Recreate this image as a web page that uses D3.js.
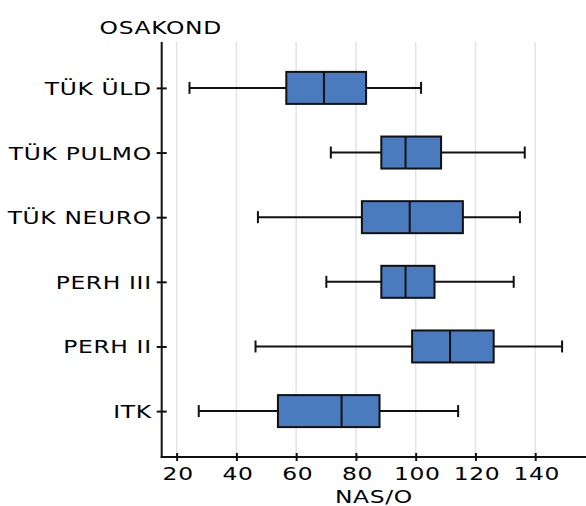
<!DOCTYPE html>
<html>
<head>
<meta charset="utf-8">
<script src="https://cdn.jsdelivr.net/npm/d3@7"></script>
<style>
  html, body { margin: 0; padding: 0; background: #fff; }
  svg { display: block; }
  text { font-family: "DejaVu Sans", Verdana, sans-serif; fill: #000; letter-spacing: 0.5px; }
</style>
</head>
<body>
<script>
const categories = ["TÜK ÜLD", "TÜK PULMO", "TÜK NEURO", "PERH III", "PERH II", "ITK"];
const whiskerLow  = [24.3, 71.6, 47.2, 70.1, 46.4, 27.4];
const q1          = [56.7, 88.5, 82.0, 88.5, 98.8, 53.9];
const median      = [69.3, 96.6, 98.0, 96.6, 111.5, 75.2];
const q3          = [83.4, 108.5, 115.8, 106.3, 126.1, 87.9];
const whiskerHigh = [101.8, 136.5, 134.9, 132.8, 149.0, 114.2];
const xTicks = [20, 40, 60, 80, 100, 120, 140];
const yTitle = "OSAKOND";
const xTitle = "NAS/O";

(function () {
const W = 586, H = 506;
const pLeft = 161.7, pRight = 586, pTop = 42, pBottom = 457;
const fontSize = 18, sx = 1.3;
const boxH = 32, capH = 12;
const fillColor = "#4a7bbf";

const svg = d3.select("body").append("svg").attr("width", W).attr("height", H);

const x = d3.scaleLinear().domain([15, 157]).range([pLeft, pRight]);
const y = d3.scalePoint().domain(categories).range([pTop, pBottom]).padding(0.71);

const rows = categories.map((c, i) => ({
  cat: c, lo: whiskerLow[i], q1: q1[i], med: median[i], q3: q3[i], hi: whiskerHigh[i]
}));

// grid lines
svg.append("g").selectAll("line").data(xTicks).join("line")
  .attr("x1", d => x(d)).attr("x2", d => x(d))
  .attr("y1", pTop).attr("y2", pBottom)
  .attr("stroke", "#e3e3e3").attr("stroke-width", 1.5);

// boxes
const g = svg.append("g").selectAll("g").data(rows).join("g");
g.append("line")
  .attr("x1", d => x(d.lo)).attr("x2", d => x(d.q1))
  .attr("y1", d => y(d.cat)).attr("y2", d => y(d.cat))
  .attr("stroke", "#111").attr("stroke-width", 2);
g.append("line")
  .attr("x1", d => x(d.q3)).attr("x2", d => x(d.hi))
  .attr("y1", d => y(d.cat)).attr("y2", d => y(d.cat))
  .attr("stroke", "#111").attr("stroke-width", 2);
g.append("line")
  .attr("x1", d => x(d.lo)).attr("x2", d => x(d.lo))
  .attr("y1", d => y(d.cat) - capH / 2).attr("y2", d => y(d.cat) + capH / 2)
  .attr("stroke", "#111").attr("stroke-width", 2);
g.append("line")
  .attr("x1", d => x(d.hi)).attr("x2", d => x(d.hi))
  .attr("y1", d => y(d.cat) - capH / 2).attr("y2", d => y(d.cat) + capH / 2)
  .attr("stroke", "#111").attr("stroke-width", 2);
g.append("rect")
  .attr("x", d => x(d.q1)).attr("width", d => x(d.q3) - x(d.q1))
  .attr("y", d => y(d.cat) - boxH / 2).attr("height", boxH)
  .attr("fill", fillColor).attr("stroke", "#111").attr("stroke-width", 2);
g.append("line")
  .attr("x1", d => x(d.med)).attr("x2", d => x(d.med))
  .attr("y1", d => y(d.cat) - boxH / 2).attr("y2", d => y(d.cat) + boxH / 2)
  .attr("stroke", "#111").attr("stroke-width", 2);

// x axis
const xAxis = svg.append("g").attr("transform", `translate(0,${pBottom})`)
  .call(d3.axisBottom(x).tickValues(xTicks).tickSize(4).tickSizeOuter(0));
xAxis.select(".domain").attr("stroke", "#111").attr("stroke-width", 2)
  .attr("d", `M${pLeft - 1},0H${pRight}`);
xAxis.selectAll(".tick line").attr("y1", -4).attr("y2", 4)
  .attr("stroke", "#111").attr("stroke-width", 2);
xAxis.selectAll(".tick text")
  .attr("y", 0).attr("dy", 0)
  .attr("transform", `translate(1,23) scale(${sx},1)`)
  .style("font-size", fontSize + "px");

// y axis
const yAxis = svg.append("g").attr("transform", `translate(${pLeft},0)`)
  .call(d3.axisLeft(y).tickSize(5).tickSizeOuter(0));
yAxis.select(".domain").attr("stroke", "#111").attr("stroke-width", 2)
  .attr("d", `M0,${pTop}V${pBottom + 1}`);
yAxis.selectAll(".tick line").attr("x1", -5).attr("x2", 5)
  .attr("stroke", "#111").attr("stroke-width", 2);
yAxis.selectAll(".tick text")
  .attr("x", 0).attr("dy", "0.36em")
  .attr("transform", `translate(-10,0) scale(${sx},1)`)
  .style("font-size", fontSize + "px");

// titles
svg.append("text")
  .attr("transform", `translate(${pLeft - 1},34) scale(${sx},1)`)
  .attr("text-anchor", "middle").style("font-size", fontSize + "px")
  .text(yTitle);
svg.append("text")
  .attr("transform", `translate(${(pLeft + pRight) / 2},503) scale(${sx},1)`)
  .attr("text-anchor", "middle").style("font-size", fontSize + "px")
  .text(xTitle);
})();
</script>
</body>
</html>
